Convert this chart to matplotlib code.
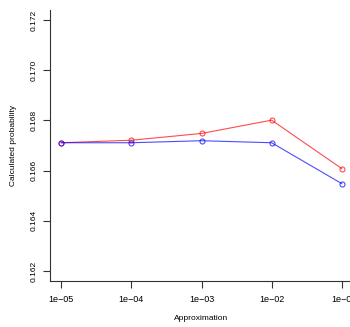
import matplotlib
matplotlib.use("Agg")
import matplotlib.pyplot as plt

approx_labels = ["1e\u221205", "1e\u221204", "1e\u221203", "1e\u221202", "1e\u22120"]
red_vals = [0.16711, 0.16721, 0.16748, 0.16801, 0.16608]
blue_vals = [0.16711, 0.16711, 0.16719, 0.16711, 0.16548]
y_ticks = [0.162, 0.164, 0.166, 0.168, 0.170, 0.172]

plt.rcParams['font.family'] = ['Liberation Sans', 'DejaVu Sans']

fig = plt.figure(figsize=(3.5, 3.27), dpi=100)
ax = fig.add_axes([50 / 350, 1 - 281 / 327, 303 / 350, 271 / 327])

x = list(range(1, len(approx_labels) + 1))
ax.plot(x, red_vals, color='red', alpha=0.7, lw=0.8, marker='o', ms=3.6,
        mfc='none', mew=0.8)
ax.plot(x, blue_vals, color='blue', alpha=0.7, lw=0.8, marker='o', ms=3.6,
        mfc='none', mew=0.8)

ax.set_xlim(0.84, 5.16)
ax.set_ylim(0.1616, 0.1724)
ax.set_xticks(x)
ax.set_xticklabels(approx_labels)
ax.set_yticks(y_ticks)
ax.set_yticklabels(["%.3f" % v for v in y_ticks], rotation=90, va='center')

for s in ['top', 'right']:
    ax.spines[s].set_visible(False)
for s in ['left', 'bottom']:
    ax.spines[s].set_linewidth(0.8)
    ax.spines[s].set_color('#333333')

ax.tick_params(length=5, width=0.8, labelsize=6, color='#333333')
ax.tick_params(axis='x', pad=5, labelsize=6.5)
ax.tick_params(axis='y', pad=4)
ax.set_xlabel("Approximation", fontsize=6, labelpad=8)
ax.set_ylabel("Calculated probability", fontsize=6, labelpad=10)

fig.savefig("out.png", dpi=100)
